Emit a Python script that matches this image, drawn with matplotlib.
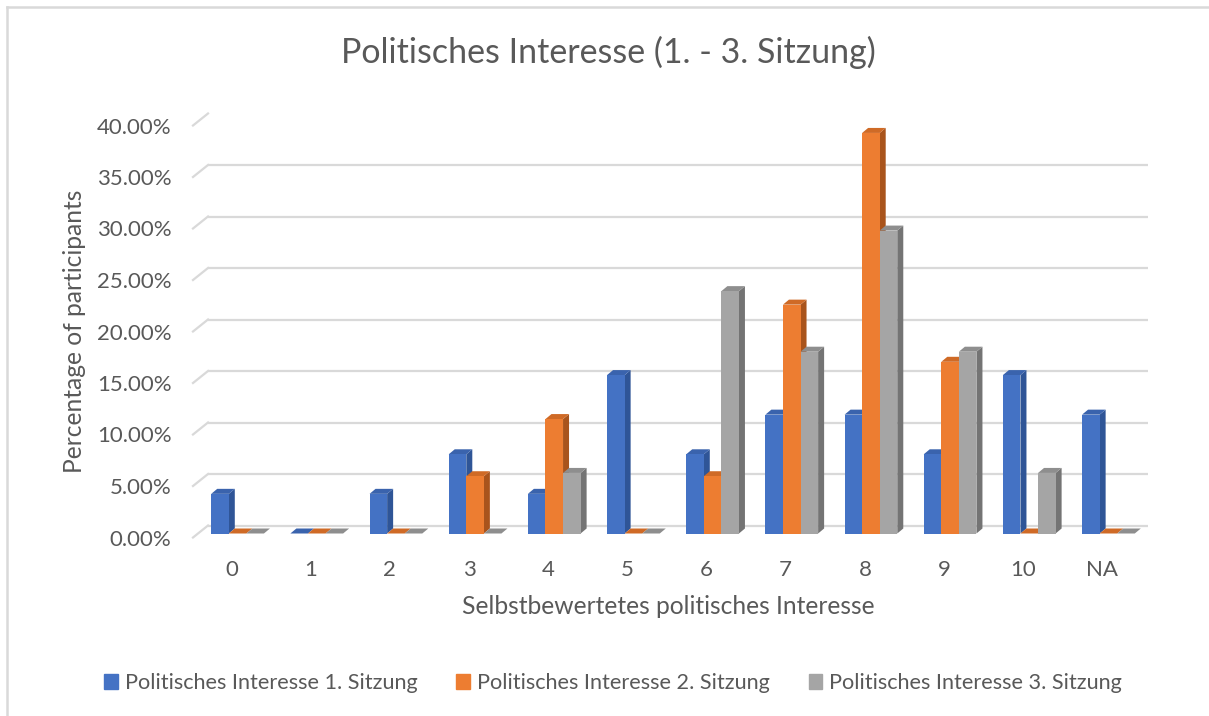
import numpy as np
import matplotlib
matplotlib.use("Agg")
import matplotlib.pyplot as plt
import matplotlib.patches as mpatches
from matplotlib.transforms import ScaledTranslation
from matplotlib.lines import Line2D

plt.rcParams['font.family'] = ['Lato', 'DejaVu Sans']

categories = ['0', '1', '2', '3', '4', '5', '6', '7', '8', '9', '10', 'NA']
sitzung1 = [3.85, 0, 3.85, 7.69, 3.85, 15.38, 7.69, 11.54, 11.54, 7.69, 15.38, 11.54]
sitzung2 = [0, 0, 0, 5.56, 11.11, 0, 5.56, 22.22, 38.89, 16.67, 0, 0]
sitzung3 = [0, 0, 0, 0, 5.88, 0, 23.53, 17.65, 29.41, 17.65, 5.88, 0]
series_names = ['Politisches Interesse 1. Sitzung',
                'Politisches Interesse 2. Sitzung',
                'Politisches Interesse 3. Sitzung']
yticks = [0, 5, 10, 15, 20, 25, 30, 35, 40]

# front, top, side colours
colors = [('#4472C4', '#3A63AD', '#2F5597'),
          ('#ED7D31', '#CF6A26', '#A9541C'),
          ('#A5A5A5', '#8E8E8E', '#747474')]

W, H = 1209, 716
dpi = 100
fig = plt.figure(figsize=(W / dpi, H / dpi), dpi=dpi)

# axes = plane where the bars stand (pixel geometry from the reference)
ax_l, ax_r = 198, 1148
ax_b, ax_t = 533.5, 121.5
ax = fig.add_axes([ax_l / W, (H - ax_b) / H, (ax_r - ax_l) / W, (ax_b - ax_t) / H])
ax.set_xlim(-0.5, 11.5)
ax.set_ylim(0, 40)
for s in ax.spines.values():
    s.set_visible(False)
ax.patch.set_visible(False)

def px(dx, dy):
    return ScaledTranslation(dx / dpi, dy / dpi, fig.dpi_scale_trans)

back = ax.transData + px(10, 8)
front = ax.transData + px(-5, -4)
grid_c = '#D9D9D9'
for t in yticks:
    ax.plot([-0.5, 11.5], [t, t], color=grid_c, lw=1.6, transform=back, zorder=0,
            solid_capstyle='butt')
    # side wall diagonal
    x0, y0 = front.transform((-0.5, t))
    x1, y1 = back.transform((-0.5, t))
    fig.add_artist(Line2D([x0 / W, x1 / W], [y0 / H, y1 / H], color=grid_c, lw=1.6))

# bars with pseudo-3D faces
x = np.arange(len(categories))
bw = 0.222
ddx, ddy = 6, 5
ppx = (ax_r - ax_l) / 12.0
ppy = (ax_b - ax_t) / 40.0
dxd, dyd = ddx / ppx, ddy / ppy
z = 2
for i in range(len(categories)):
    for k, vals in enumerate([sitzung1, sitzung2, sitzung3]):
        v = vals[i]
        x0 = i + (k - 1.5) * bw
        x1 = x0 + bw
        fc, tc, sc = colors[k]
        side = mpatches.Polygon([(x1, 0), (x1 + dxd, dyd), (x1 + dxd, v + dyd), (x1, v)],
                                closed=True, facecolor=sc, edgecolor='none', zorder=z)
        top = mpatches.Polygon([(x0, v), (x1, v), (x1 + dxd, v + dyd), (x0 + dxd, v + dyd)],
                               closed=True, facecolor=tc, edgecolor='none', zorder=z)
        ax.add_patch(side)
        ax.add_patch(top)
        ax.bar(x0, v, width=bw, align='edge', color=fc, zorder=z + 0.5, linewidth=0)
        z += 1

ax.set_xticks(x)
ax.set_xticklabels(categories)
ax.set_yticks(yticks)
ax.set_yticklabels(['%.2f%%' % t for t in yticks])
ax.tick_params(axis='both', length=0, labelsize=16, labelcolor='#595959')
ax.tick_params(axis='y', pad=19)
ax.tick_params(axis='x', pad=19)
for lab in ax.get_yticklabels():
    lab.set_transform(lab.get_transform() + px(0, -4))
for lab in ax.get_xticklabels():
    lab.set_transform(lab.get_transform() + px(-6, 0))

fig.text(608 / W, 1 - 52 / H, 'Politisches Interesse (1. - 3. Sitzung)', ha='center', va='center',
         fontsize=24.5, color='#595959')
fig.text(668 / W, 1 - 607 / H, 'Selbstbewertetes politisches Interesse', ha='center', va='center',
         fontsize=17.7, color='#595959')
fig.text(75 / W, 1 - 331 / H, 'Percentage of participants', ha='center', va='center',
         rotation=90, fontsize=17.7, color='#595959')

handles = [mpatches.Patch(color=c[0]) for c in colors]
fig.legend(handles, series_names, loc='center', bbox_to_anchor=(613 / W, 1 - 683 / H), ncol=3,
           frameon=False, fontsize=15.6, labelcolor='#595959', handlelength=0.64, handleheight=0.64,
           handletextpad=0.3, columnspacing=1.8)

# chart border (left and top visible)
border = '#D9D9D9'
fig.add_artist(Line2D([7 / W, 7 / W], [0, 1 - 7 / H], color=border, lw=1.8))
fig.add_artist(Line2D([7 / W, 1], [1 - 7 / H, 1 - 7 / H], color=border, lw=1.8))

fig.savefig('out.png', dpi=dpi)
